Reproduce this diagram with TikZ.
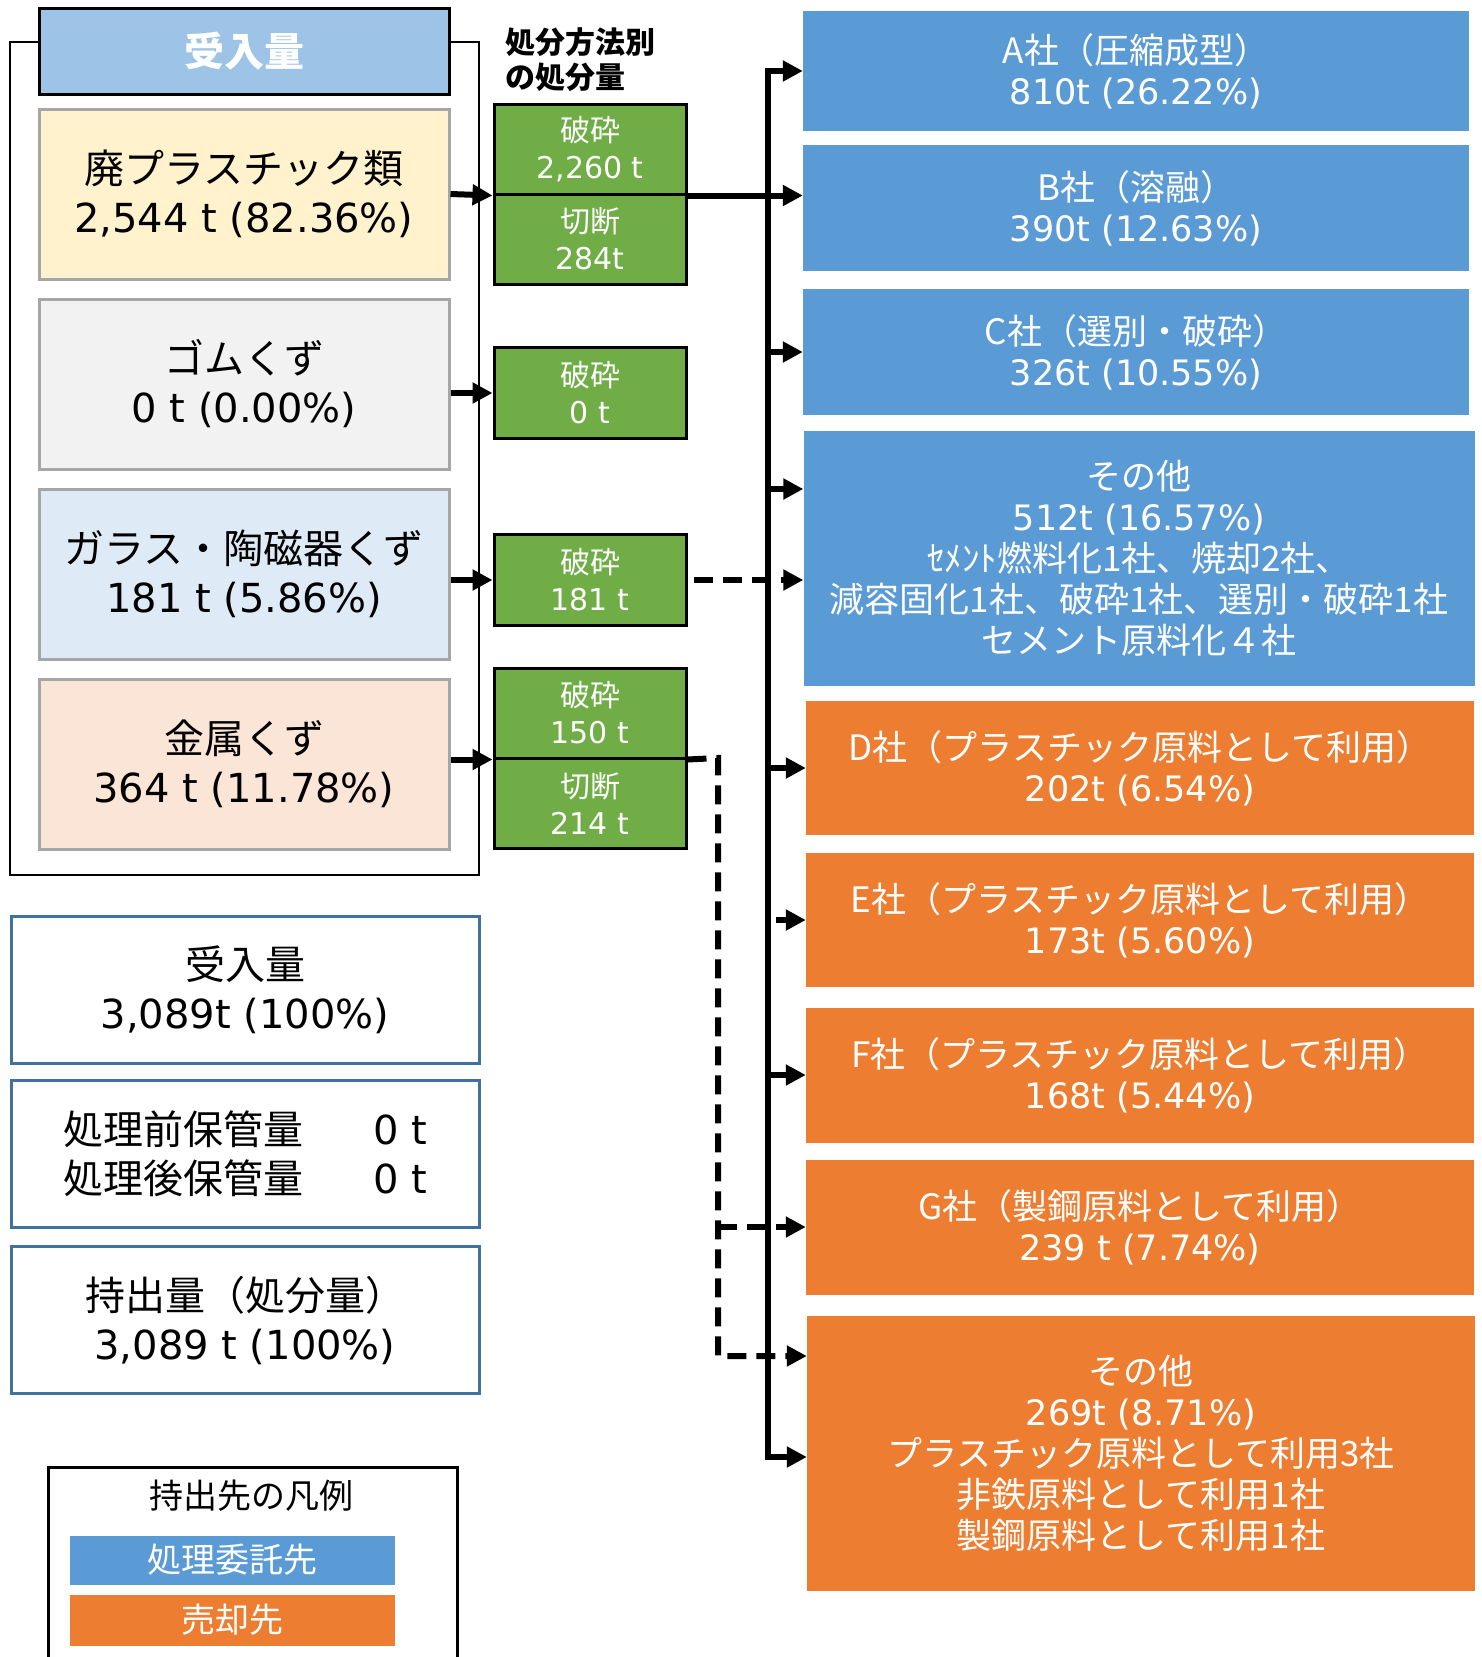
\documentclass[tikz,border=0pt]{standalone}
\usepackage{fontspec}
\setmainfont{Noto Sans CJK JP}
\newfontfamily\latf{DejaVu Sans}
\usepackage{tikz}
\usetikzlibrary{shapes,arrows,arrows.meta}

\definecolor{headblue}{HTML}{9DC3E6}
\definecolor{plastfill}{HTML}{FFF2CC}
\definecolor{rubfill}{HTML}{F2F2F2}
\definecolor{glassfill}{HTML}{DEEBF7}
\definecolor{metalfill}{HTML}{FBE5D6}
\definecolor{boxgray}{HTML}{A6A6A6}
\definecolor{grn}{HTML}{70AD47}
\definecolor{blu}{HTML}{5B9BD5}
\definecolor{org}{HTML}{ED7D31}
\definecolor{steel}{HTML}{41719C}

\newcommand{\fsz}[2]{\fontsize{#1}{#2}\selectfont}
\newcommand{\lat}[1]{{\latf #1}}

\begin{document}
\begin{tikzpicture}[x=1pt,y=-1pt,
    every path/.style={>={Triangle[length=20pt,width=20pt]}},
    wastebox/.style={draw=boxgray,line width=3pt,minimum width=410pt,minimum height=170pt,align=center,font=\fsz{40}{49}},
    greenbox/.style={draw=black,line width=3pt,fill=grn,text=white,minimum width=192pt,minimum height=90pt,align=center,font=\fsz{30}{37}},
    firmbox/.style={minimum width=666pt,align=center,text=white,font=\fsz{35}{41}},
    sumbox/.style={draw=steel,line width=3pt,minimum width=468pt,minimum height=147pt,align=center,font=\fsz{40}{49}},
    legbar/.style={minimum width=325pt,text=white,font=\fsz{34}{40}},
    link/.style={line width=6pt,->},
    dashlink/.style={line width=6pt,dash pattern=on 19pt off 10pt}]
  \clip (0,0) rectangle (1482,1657);

  % receiving side
  \draw[line width=2.5pt] (10,42) rectangle (479,875);
  \node[draw=black,line width=3pt,fill=headblue,text=white,minimum width=410pt,minimum height=86pt,font=\bfseries\fsz{40}{49}] (head) at (244,51) {受入量};
  \node[wastebox,fill=plastfill] (plastic) at (244,194) {廃プラスチック類\\\lat{2,544 t (82.36\%)}};
  \node[wastebox,fill=rubfill]   (rubber)  at (244,384) {ゴムくず\\\lat{0 t (0.00\%)}};
  \node[wastebox,fill=glassfill] (glass)   at (244,574) {ガラス・陶磁器くず\\\lat{181 t (5.86\%)}};
  \node[wastebox,fill=metalfill] (metal)   at (244,764) {金属くず\\\lat{364 t (11.78\%)}};

  % treatment
  \node[anchor=north west,align=left,inner sep=0pt,font=\bfseries\fsz{30}{35}] (method) at (505,27) {処分方法別\\の処分量};
  \node[greenbox] (g1a) at (590,149) {破砕\\\lat{2,260 t}};
  \node[greenbox] (g1b) at (590,239) {切断\\\lat{284t}};
  \node[greenbox,minimum height=91pt] (g2) at (590,393) {破砕\\\lat{0 t}};
  \node[greenbox,minimum height=91pt] (g3) at (590,580) {破砕\\\lat{181 t}};
  \node[greenbox] (g4a) at (590,713) {破砕\\\lat{150 t}};
  \node[greenbox] (g4b) at (590,803) {切断\\\lat{214 t}};

  % destinations
  \node[firmbox,fill=blu,minimum height=120pt] (A) at (1136,71)  {A社（圧縮成型）\\\lat{810t (26.22\%)}};
  \node[firmbox,fill=blu,minimum height=126pt] (B) at (1136,208) {B社（溶融）\\\lat{390t (12.63\%)}};
  \node[firmbox,fill=blu,minimum height=126pt] (C) at (1136,352) {C社（選別・破砕）\\\lat{326t (10.55\%)}};
  \node[firmbox,fill=blu,minimum width=671pt,minimum height=255pt] (othB) at (1139,558)
       {その他\\\lat{512t (16.57\%)}\\ｾﾒﾝﾄ燃料化1社、焼却2社、\\減容固化1社、破砕1社、選別・破砕1社\\セメント原料化４社};
  \node[firmbox,fill=org,minimum width=668pt,minimum height=134pt] (D) at (1140,768)  {D社（プラスチック原料として利用）\\\lat{202t (6.54\%)}};
  \node[firmbox,fill=org,minimum width=668pt,minimum height=134pt] (E) at (1140,920)  {E社（プラスチック原料として利用）\\\lat{173t (5.60\%)}};
  \node[firmbox,fill=org,minimum width=668pt,minimum height=135pt] (F) at (1140,1075) {F社（プラスチック原料として利用）\\\lat{168t (5.44\%)}};
  \node[firmbox,fill=org,minimum width=668pt,minimum height=135pt] (G) at (1140,1227) {G社（製鋼原料として利用）\\\lat{239 t (7.74\%)}};
  \node[firmbox,fill=org,minimum width=668pt,minimum height=275pt] (othO) at (1141,1453)
       {その他\\\lat{269t (8.71\%)}\\プラスチック原料として利用3社\\非鉄原料として利用1社\\製鋼原料として利用1社};

  % totals
  \node[sumbox] (sumin)  at (245,990)  {受入量\\\lat{3,089t (100\%)}};
  \node[sumbox,align=left] (sumkeep) at (245,1154) {処理前保管量\hspace{70pt}\lat{0 t}\\処理後保管量\hspace{70pt}\lat{0 t}};
  \node[sumbox] (sumout) at (245,1320) {持出量（処分量）\\\lat{3,089 t (100\%)}};

  % legend
  \draw[line width=3pt] (48,1467) rectangle (457,1700);
  \node[font=\fsz{34}{40}] (legtitle) at (251,1496) {持出先の凡例};
  \node[legbar,fill=blu,minimum height=49pt] (legA) at (232,1560) {処理委託先};
  \node[legbar,fill=org,minimum height=51pt] (legB) at (232,1620) {売却先};

  % connectors
  \draw[link] (plastic.east) -- (g1a.south west);
  \draw[link] (rubber.east |- g2.west) -- (g2.west);
  \draw[link] (glass.east |- g3.west) -- (g3.west);
  \draw[link] (metal.east |- g4a.south west) -- (g4a.south west);

  \coordinate (bus) at (768,0);
  \coordinate (bustop) at (768,71);
  \coordinate (busbot) at (768,1457);
  \coordinate (othBin) at (768,489);
  \coordinate (dtop) at (718,758);
  \coordinate (dbot) at (718,1356);
  \draw[link,<->] (A.west) -- (bustop) -- (busbot) -- (busbot -| othO.west);
  \draw[link] (g1a.south east) -- (g1a.south east -| B.west);
  \draw[link] (bus |- C.west) -- (C.west);
  \draw[link] (othBin) -- (othBin -| othB.west);
  \draw[dashlink,->,shorten <=6pt] (g3.east) -- (g3.east -| othB.west);
  \draw[link] (bus |- D.west) -- (D.west);
  \draw[link,shorten <=8pt] (bus |- E.west) -- (E.west);
  \draw[link] (bus |- F.west) -- (F.west);
  \draw[dashlink,->] (g4a.south east) -- (dtop) -- (dbot) -- (dbot -| othO.west);
  \draw[dashlink,->] (dtop |- G.west) -- (G.west);
\end{tikzpicture}
\end{document}
